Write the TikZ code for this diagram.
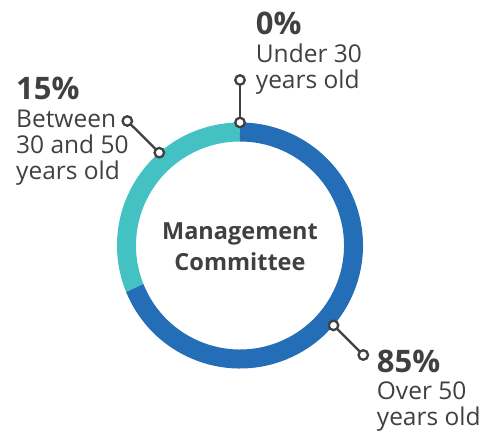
\documentclass[tikz,border=0pt]{standalone}
\usepackage{fontspec}
\setmainfont{Open Sans}
\usetikzlibrary{calc,positioning}
\definecolor{ringblue}{HTML}{236EB7}
\definecolor{ringteal}{HTML}{44C1C2}
\definecolor{inkgray}{HTML}{404040}
\tikzset{
  segment/.style = {line width=19pt},
  pin/.style     = {circle, draw=inkgray, fill=white, line width=2.3pt,
                    minimum size=9.5pt, inner sep=0pt},
  leader/.style  = {draw=inkgray, line width=2.3pt},
  pct/.style     = {font=\fontsize{31}{31}\selectfont\bfseries, text=inkgray,
                    anchor=base west, inner sep=0pt},
  desc/.style    = {font=\fontsize{24.5}{26}\selectfont, text=inkgray,
                    align=left, anchor=base west, inner sep=0pt},
  title/.style   = {font=\fontsize{23.5}{31.4}\selectfont\bfseries, text=inkgray,
                    align=center, inner sep=0pt}
}

\begin{document}
\begin{tikzpicture}[x=1pt,y=1pt]
  \useasboundingbox (0,0) rectangle (495,433);
  \coordinate (ring) at (240,187.5);

  % donut
  \draw[segment, ringteal] (ring) ++(90:113.5) arc[start angle=90, end angle=202, radius=113.5];
  \draw[segment, ringblue] (ring) ++(202:113.5) arc[start angle=202, end angle=450, radius=113.5];

  \node[title] (centre) at (240,186.2) {Management\\Committee};

  % leaders
  \coordinate (p-under) at ($(ring)+(90:123)$);
  \coordinate (p-mid)   at ($(ring)+(131:123)$);
  \coordinate (p-over)  at ($(ring)+(-40.5:123)$);
  \coordinate (t-under) at (240,353);
  \coordinate (t-mid)   at (127.3,312);
  \coordinate (t-over)  at (363.3,78);
  \foreach \nm in {under,mid,over} {
    \draw[leader] (p-\nm) -- (t-\nm);
    \node[pin] at (p-\nm) {};
    \node[pin] at (t-\nm) {};
  }

  % labels
  \node[pct]  (pct-under)  at (255.7,398)   {0\%};
  \node[desc] (desc-under) at (255.7,344.7) {Under 30\\years old};
  \node[pct]  (pct-mid)    at (16,333)      {15\%};
  \node[desc] (desc-mid)   at (16,253.7)    {Between\\30 and 50\\years old};
  \node[pct]  (pct-over)   at (376.7,60.7)  {85\%};
  \node[desc] (desc-over)  at (376.7,7.3)   {Over 50\\years old};
\end{tikzpicture}
\end{document}
